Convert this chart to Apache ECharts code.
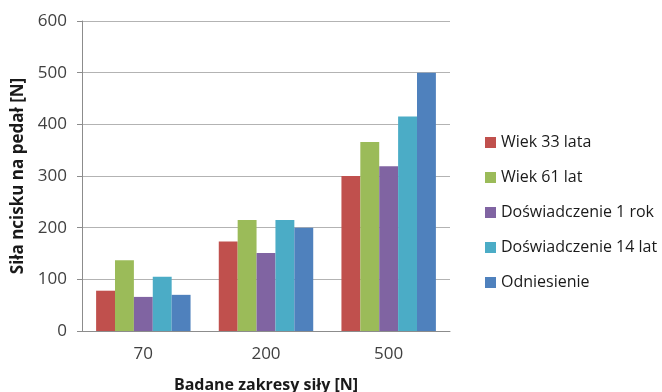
<!DOCTYPE html>
<html>
<head>
<meta charset="utf-8">
<script src="https://cdn.jsdelivr.net/npm/echarts@6/dist/echarts.min.js"></script>
<style>
  html, body { margin: 0; padding: 0; background: #fff; }
  #chart { width: 662px; height: 392px; }
</style>
</head>
<body>
<div id="chart"></div>
<script>
// Tested force ranges [N]
const categories = ['70', '200', '500'];

// Pedal pressing force per driver group [N]
const seriesNames = ['Wiek 33 lata', 'Wiek 61 lat', 'Doświadczenie 1 rok', 'Doświadczenie 14 lat', 'Odniesienie'];
const wiek33 = [78, 173, 300];
const wiek61 = [137, 215, 366];
const dosw1 = [66, 151, 319];
const dosw14 = [105, 215, 415];
const odniesienie = [70, 200, 500];
const colors = ['#C0504D', '#9BBB59', '#8064A2', '#4BACC6', '#4F81BD'];

const yTicks = { min: 0, max: 600, interval: 100 };

const FONT = '"Open Sans", "Liberation Sans", sans-serif';
const values = [wiek33, wiek61, dosw1, dosw14, odniesienie];

const chart = echarts.init(document.getElementById('chart'), null, { renderer: 'canvas' });
chart.setOption({
  animation: false,
  textStyle: { fontFamily: FONT },
  grid: { left: 82, right: 212, top: 21, bottom: 61, containLabel: false, outerBoundsMode: 'none' },
  legend: {
    orient: 'vertical',
    left: 480,
    top: 129,
    itemWidth: 11,
    itemHeight: 11,
    itemGap: 18,
    icon: 'rect',
    textStyle: { fontFamily: FONT, fontSize: 16, color: '#1a1a1a', lineHeight: 17 },
    data: seriesNames
  },
  xAxis: {
    type: 'category',
    data: categories,
    name: 'Badane zakresy siły [N]',
    nameLocation: 'middle',
    nameGap: 46,
    nameTextStyle: { fontFamily: FONT, fontSize: 16, fontWeight: 'bold', color: '#1a1a1a' },
    axisLine: { lineStyle: { color: '#8c8c8c', width: 1 } },
    axisTick: { show: false },
    axisLabel: { fontFamily: FONT, fontSize: 17, color: '#404040', margin: 15 }
  },
  yAxis: {
    type: 'value',
    min: yTicks.min,
    max: yTicks.max,
    interval: yTicks.interval,
    name: 'Siła ncisku na pedał [N]',
    nameLocation: 'middle',
    nameGap: 53,
    nameTextStyle: { fontFamily: FONT, fontSize: 17, fontWeight: 'bold', color: '#1a1a1a' },
    axisLine: { show: true, lineStyle: { color: '#8c8c8c', width: 1 } },
    axisTick: { show: true, length: 5, lineStyle: { color: '#8c8c8c' } },
    axisLabel: { fontFamily: FONT, fontSize: 17, color: '#404040', margin: 15 },
    splitLine: { lineStyle: { color: '#b3b3b3', width: 1 } }
  },
  series: seriesNames.map((name, i) => ({
    name: name,
    type: 'bar',
    data: values[i],
    barGap: '0%',
    barCategoryGap: '23%',
    itemStyle: { color: colors[i] }
  }))
});
</script>
</body>
</html>
